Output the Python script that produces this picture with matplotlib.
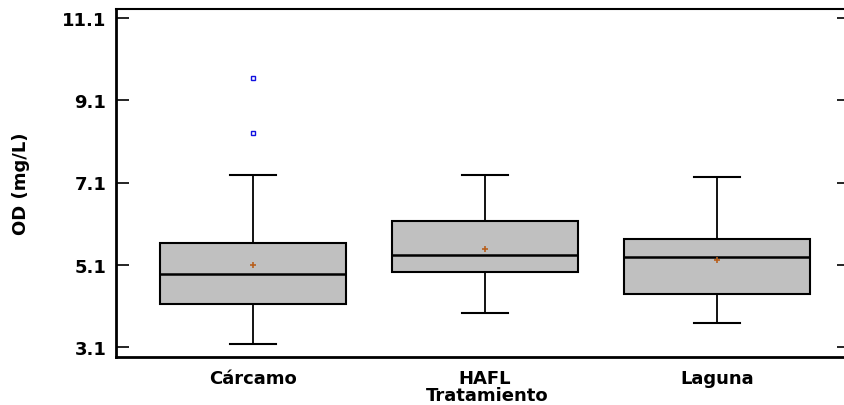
import matplotlib
matplotlib.use("Agg")
import matplotlib.pyplot as plt

categories = ["Cárcamo", "HAFL", "Laguna"]
whislo = [3.17, 3.93, 3.69]
q1 = [4.15, 4.92, 4.40]
medians = [4.875, 5.34, 5.29]
q3 = [5.63, 6.17, 5.73]
whishi = [7.28, 7.29, 7.24]
means = [5.09, 5.49, 5.22]
fliers = [[8.30, 9.64], [], []]
yticks = [3.1, 5.1, 7.1, 9.1, 11.1]

plt.rcParams['font.family'] = ['DejaVu Sans']

W, H = 844, 406
fig = plt.figure(figsize=(W / 100, H / 100), dpi=100)
left, right, top, bottom = 116, 850, 10, 357.5
ax = fig.add_axes([left / W, (H - bottom) / H, (right - left) / W, (bottom - top) / H])

stats = []
for i in range(len(categories)):
    stats.append(dict(med=medians[i], q1=q1[i], q3=q3[i], whislo=whislo[i],
                      whishi=whishi[i], mean=means[i], fliers=fliers[i], label=categories[i]))

ax.bxp(stats, positions=[1, 2, 3], widths=0.8, patch_artist=True, showmeans=True,
       boxprops=dict(facecolor='#C0C0C0', edgecolor='black', linewidth=1.5),
       medianprops=dict(color='black', linewidth=1.8),
       whiskerprops=dict(color='black', linewidth=1.3),
       capprops=dict(color='black', linewidth=1.5),
       capwidths=0.2,
       meanprops=dict(marker='+', markeredgecolor='#B8601E', markersize=5, markeredgewidth=1.2),
       flierprops=dict(marker='s', markerfacecolor='white', markeredgecolor='#1010E0',
                       markersize=3.5, markeredgewidth=1.0))

ax.set_xlim(1 - (253 - left) / 232, 3 + (right - 717) / 232)
ax.set_ylim(3.1 - 9.5 / 41.125, 11.1 + 9 / 41.125)
ax.set_yticks(yticks)
ax.set_yticklabels([f"{v:.1f}" for v in yticks], fontsize=13, fontweight='bold')
ax.tick_params(axis='y', direction='in', length=9.5, width=1.2, pad=7, right=True, left=True)
ax.tick_params(axis='x', length=0, pad=9)
ax.set_xticks([1, 2, 3])
ax.set_xticklabels(categories, fontsize=13, fontweight='bold')

for s in ['left', 'bottom']:
    ax.spines[s].set_linewidth(2)
ax.spines['top'].set_linewidth(1.5)
ax.spines['right'].set_linewidth(1.5)

ax.set_ylabel("OD (mg/L)", fontsize=13, fontweight='bold', labelpad=23)
fig.text(487 / W, (H - 396) / H, "Tratamiento", ha='center', va='center',
         fontsize=13, fontweight='bold')

fig.savefig("out.png", dpi=100)
